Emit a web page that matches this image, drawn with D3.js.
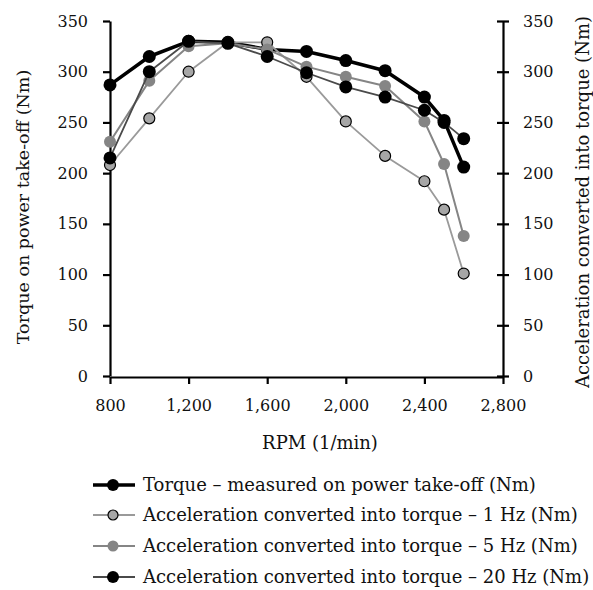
<!DOCTYPE html>
<html>
<head>
<meta charset="utf-8">
<script src="https://cdn.jsdelivr.net/npm/d3@7"></script>
<style>
  body { margin: 0; background: #fff; }
  svg text { font-family: "DejaVu Serif", "Liberation Serif", serif; fill: #111; }
</style>
</head>
<body>
<svg id="chart" width="593" height="590"></svg>
<script>
// data
const rpm = [800, 1000, 1200, 1400, 1600, 1800, 2000, 2200, 2400, 2500, 2600];
const torqueMeasured = [287, 315, 330, 329, 322, 320, 311, 301, 275, 252, 206];
const accel1Hz = [208, 254, 300, 329, 329, 295, 251, 217, 192, 164, 101];
const accel5Hz = [231, 291, 325, 328, 322, 305, 295, 286, 251, 209, 138];
const accel20Hz = [215, 300, 330, 328, 315, 299, 285, 275, 262, 250, 234];
const xTicks = [800, 1200, 1600, 2000, 2400, 2800];
const yTicks = [0, 50, 100, 150, 200, 250, 300, 350];

const series = [
  { name: "Torque \u2013 measured on power take-off (Nm)", values: torqueMeasured,
    line: "#000", lw: 3.5, fill: "#000", stroke: "none", r: 6.5 },
  { name: "Acceleration converted into torque \u2013 1 Hz (Nm)", values: accel1Hz,
    line: "#9a9a9a", lw: 1.8, fill: "#a6a6a6", stroke: "#000", r: 5.5 },
  { name: "Acceleration converted into torque \u2013 5 Hz (Nm)", values: accel5Hz,
    line: "#858585", lw: 2, fill: "#858585", stroke: "none", r: 6 },
  { name: "Acceleration converted into torque \u2013 20 Hz (Nm)", values: accel20Hz,
    line: "#4a4a4a", lw: 1.8, fill: "#000", stroke: "none", r: 6.5 }
];

const svg = d3.select("#chart");
const plotLeft = 110, plotRight = 503, plotTop = 21, plotBottom = 376;

const x = d3.scaleLinear().domain([800, 2800]).range([plotLeft, plotRight]);
const y = d3.scaleLinear().domain([0, 350]).range([plotBottom, plotTop]);

// left axis
const gl = svg.append("g")
  .attr("transform", `translate(${plotLeft},0)`)
  .call(d3.axisLeft(y).tickValues(yTicks).tickSize(7).tickPadding(15).tickSizeOuter(0));

// right axis (ticks cross the line)
const gr = svg.append("g")
  .attr("transform", `translate(${plotRight},0)`)
  .call(d3.axisRight(y).tickValues(yTicks).tickSize(6).tickPadding(14).tickSizeOuter(0));
gr.selectAll(".tick line").attr("x1", -6);

// bottom axis
const gb = svg.append("g")
  .attr("transform", `translate(0,${plotBottom + 1})`)
  .call(d3.axisBottom(x).tickValues(xTicks).tickFormat(d3.format(",")).tickSize(7).tickPadding(16).tickSizeOuter(0));

[gl, gr, gb].forEach(g => {
  g.selectAll(".domain").attr("stroke", "#000").attr("stroke-width", 2.2);
  g.selectAll(".tick line").attr("stroke", "#000").attr("stroke-width", 2.2);
  g.selectAll(".tick text").style("font-size", "16px").attr("fill", "#111");
});

// axis titles
svg.append("text")
  .attr("transform", "translate(29,207) rotate(-90)")
  .attr("text-anchor", "middle")
  .style("font-size", "17.5px")
  .text("Torque on power take-off (Nm)");

svg.append("text")
  .attr("transform", "translate(589,202) rotate(-90)")
  .attr("text-anchor", "middle")
  .style("font-size", "18px")
  .text("Acceleration converted into torque (Nm)");

svg.append("text")
  .attr("x", 320)
  .attr("y", 449)
  .attr("text-anchor", "middle")
  .style("font-size", "18px")
  .text("RPM (1/min)");

// series
const line = d3.line().x((d, i) => x(rpm[i])).y(d => y(d));

series.forEach(s => {
  const g = svg.append("g");
  g.append("path")
    .datum(s.values)
    .attr("fill", "none")
    .attr("stroke", s.line)
    .attr("stroke-width", s.lw)
    .attr("stroke-linejoin", "round")
    .attr("d", line);
  g.selectAll("circle")
    .data(s.values)
    .enter().append("circle")
    .attr("cx", (d, i) => x(rpm[i]))
    .attr("cy", d => y(d))
    .attr("r", s.r)
    .attr("fill", s.fill)
    .attr("stroke", s.stroke)
    .attr("stroke-width", 1.2);
});

// legend
const legend = svg.append("g");
const rowY = [485, 515, 546, 577];
series.forEach((s, i) => {
  const row = legend.append("g").attr("transform", `translate(0,${rowY[i]})`);
  row.append("line")
    .attr("x1", 93).attr("x2", 135)
    .attr("stroke", s.line).attr("stroke-width", s.lw);
  row.append("circle")
    .attr("cx", 113).attr("cy", 0).attr("r", s.r - 0.5)
    .attr("fill", s.fill).attr("stroke", s.stroke).attr("stroke-width", 1.2);
  row.append("text")
    .attr("x", 143).attr("y", 0).attr("dy", "0.33em")
    .style("font-size", "18px")
    .text(s.name);
});
</script>
</body>
</html>
